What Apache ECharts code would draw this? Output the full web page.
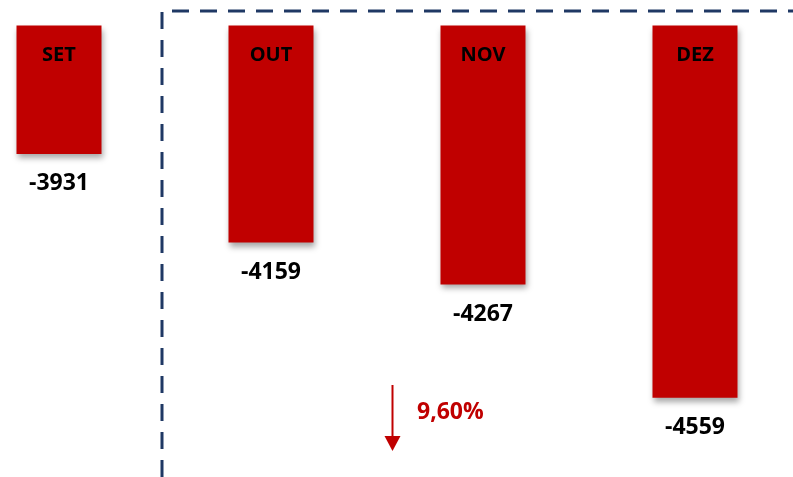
<!DOCTYPE html>
<html>
<head>
<meta charset="utf-8">
<script src="https://cdn.jsdelivr.net/npm/echarts@6/dist/echarts.min.js"></script>
<style>
  html, body { margin: 0; padding: 0; background: #ffffff; }
  #chart { width: 793px; height: 477px; }
</style>
</head>
<body>
<div id="chart"></div>
<script>
const categories = ['SET', 'OUT', 'NOV', 'DEZ'];
const values = [-3931, -4159, -4267, -4559];
const changeLabel = '9,60%';

const chart = echarts.init(document.getElementById('chart'), null, { renderer: 'canvas' });

const navy = '#1F3864';
const red = '#C00000';
const font = '"Open Sans", "DejaVu Sans", sans-serif';

const barData = values.map((v, i) => [i, v]);

chart.setOption({
  animation: false,
  backgroundColor: '#ffffff',
  grid: { left: 0, right: 0, top: 25.6, height: 426.9, containLabel: false },
  xAxis: {
    type: 'value',
    min: -0.2783,
    max: 3.4623,
    show: false,
    splitLine: { show: false }
  },
  yAxis: {
    type: 'value',
    min: -4700,
    max: -3600,
    startValue: -3600,
    show: false,
    splitLine: { show: false }
  },
  series: [{
    type: 'bar',
    data: barData,
    barWidth: 85,
    itemStyle: {
      color: red,
      shadowBlur: 6,
      shadowOffsetX: 2,
      shadowOffsetY: 4,
      shadowColor: 'rgba(0,0,0,0.35)'
    },
    label: {
      show: true,
      position: 'insideTop',
      distance: 20,
      formatter: (p) => categories[p.dataIndex],
      color: '#000000',
      fontFamily: font,
      fontWeight: 'bold',
      fontSize: 20
    }
  }, {
    type: 'bar',
    data: barData,
    barWidth: 85,
    barGap: '-100%',
    itemStyle: { color: 'rgba(0,0,0,0)' },
    label: {
      show: true,
      position: 'bottom',
      distance: 18,
      formatter: (p) => String(values[p.dataIndex]),
      color: '#000000',
      fontFamily: font,
      fontWeight: 'bold',
      fontSize: 23
    },
    silent: true
  }],
  graphic: [
    {
      type: 'polyline',
      shape: { points: [[162, 477], [162, 11], [793, 11]] },
      style: { stroke: navy, lineWidth: 3, fill: null, lineDash: [17, 11] },
      z: 10
    },
    {
      type: 'line',
      shape: { x1: 392.5, y1: 385, x2: 392.5, y2: 440 },
      style: { stroke: red, lineWidth: 2 },
      z: 10
    },
    {
      type: 'polygon',
      shape: { points: [[384.5, 436], [400.5, 436], [392.5, 451]] },
      style: { fill: red },
      z: 10
    },
    {
      type: 'text',
      left: 417,
      top: 401,
      style: {
        text: changeLabel,
        fill: red,
        font: 'bold 23px "Open Sans"'
      },
      z: 10
    }
  ]
});
</script>
</body>
</html>
